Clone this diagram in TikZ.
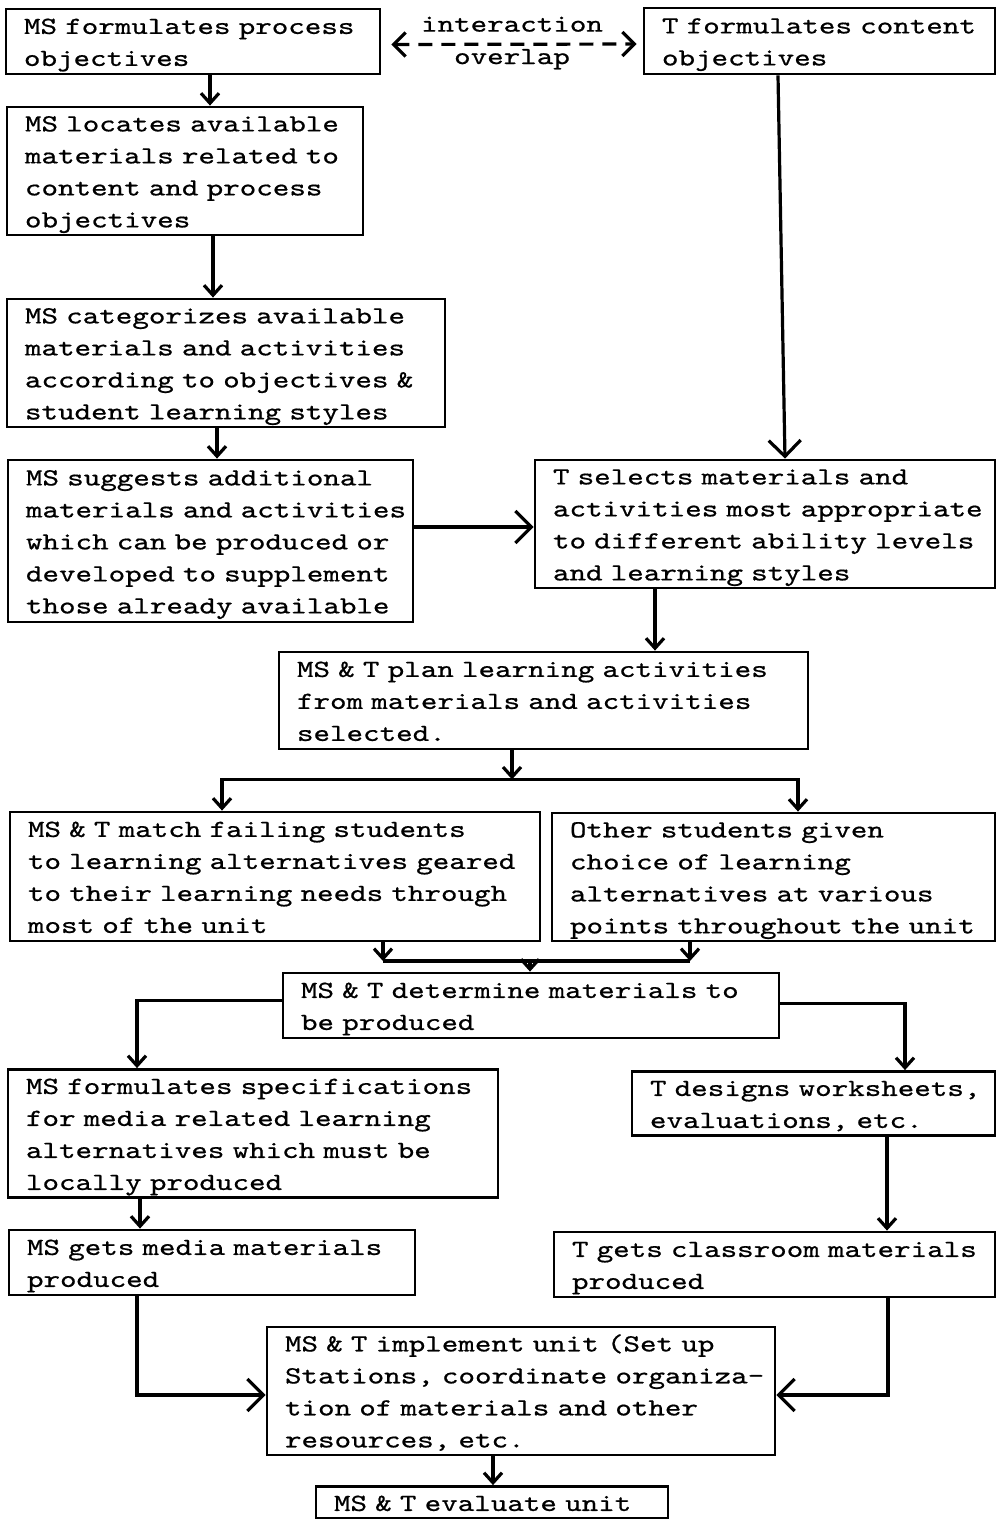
\documentclass[tikz,border=0pt]{standalone}
\usepackage{fontspec}
\setmonofont[FakeStretch=1.28,FakeBold=0.7]{lmmono10-regular.otf}
\usetikzlibrary{arrows.meta,calc}
\newcommand{\boxlines}[1]{\raisebox{-2pt}[\height][\depth]{\begin{tabular}{@{}l@{}}#1\end{tabular}}}
\tikzset{
  tw/.style={font=\ttfamily\fontsize{24.6}{32}\selectfont},
  box/.style={tw, draw, line width=2.8pt, inner xsep=18pt, inner ysep=0pt, align=left},
  arr/.style={line width=3.2pt, -{Straight Barb[length=10pt,width=18pt]}},
  bigarr/.style={line width=3.2pt, -{Straight Barb[length=16pt,width=32pt]}},
  plain/.style={line width=3.2pt},
  lbl/.style={tw, inner sep=0pt}
}
\begin{document}
\begin{tikzpicture}[x=1pt,y=-1pt]
\useasboundingbox (0,0) rectangle (997,1519);
% boxes
\node[box, text width=338pt, minimum height=65pt] (B1) at (193,41.5) {\boxlines{MS formulates process\\objectives}};
\node[box, text width=315pt, minimum height=66pt] (B2) at (819.5,41) {\boxlines{T formulates content\\objectives}};
\node[box, text width=320pt, minimum height=128pt] (B3) at (185,171) {\boxlines{MS locates available\\materials related to\\content and process\\objectives}};
\node[box, text width=402pt, minimum height=128pt] (B4) at (226,363) {\boxlines{MS categorizes available\\materials and activities\\according to objectives \&\\student learning styles}};
\node[box, text width=369pt, minimum height=162pt] (B5) at (210.5,541) {\boxlines{MS suggests additional\\materials and activities\\which can be produced or\\developed to supplement\\those already available}};
\node[box, text width=424pt, minimum height=128pt] (B6) at (765,524) {\boxlines{T selects materials and\\activities most appropriate\\to different ability levels\\and learning styles}};
\node[box, text width=493pt, minimum height=97pt] (B7) at (543.5,700.5) {\boxlines{MS \& T plan learning activities\\from materials and activities\\selected.}};
\node[box, text width=494pt, minimum height=129pt] (B8) at (275,876.5) {\boxlines{MS \& T match failing students\\to learning alternatives geared\\to their learning needs through\\most of the unit}};
\node[box, text width=407pt, minimum height=128pt] (B9) at (773.5,877) {\boxlines{Other students given\\choice of learning\\alternatives at various\\points throughout the unit}};
\node[box, text width=460pt, minimum height=65pt] (B10) at (531,1005.5) {\boxlines{MS \& T determine materials to\\be produced}};
\node[box, text width=454pt, minimum height=127pt] (B11) at (253,1133.5) {\boxlines{MS formulates specifications\\for media related learning\\alternatives which must be\\locally produced}};
\node[box, text width=327pt, minimum height=63pt] (B12) at (813.5,1103.5) {\boxlines{T designs worksheets,\\evaluations, etc.}};
\node[box, text width=370pt, minimum height=65pt] (B13) at (212,1262.5) {\boxlines{MS gets media materials\\produced}};
\node[box, text width=405pt, minimum height=65pt] (B14) at (774.5,1264.5) {\boxlines{T gets classroom materials\\produced}};
\node[box, text width=472pt, minimum height=128pt] (B15) at (521,1391) {\boxlines{MS \& T implement unit (Set up\\Stations, coordinate organiza-\\tion of materials and other\\resources, etc.}};
\node[box, text width=316pt, minimum height=31pt] (B16) at (492,1502.5) {\boxlines{MS \& T evaluate unit}};
% interaction overlap
\draw[line width=3.2pt, dash pattern=on 14pt off 9pt, {Straight Barb[length=12pt,width=24pt]}-{Straight Barb[length=12pt,width=24pt]}, shorten <=10pt, shorten >=6pt]
  ([yshift=-3]B1.east) -- ([yshift=-3]B2.west)
  node[lbl, midway, yshift=20pt] (L1) {interaction}
  node[lbl, midway, yshift=-15pt] (L2) {overlap};
% connectors
\draw[arr] ([xshift=17]B1.south) -- ([xshift=17]B1.south |- B3.north);
\draw[arr] ([xshift=28]B3.south) -- ([xshift=28]B3.south |- B4.north);
\draw[arr] ([xshift=-9]B4.south) -- ([xshift=-9]B4.south |- B5.north);
\draw[bigarr] ([xshift=-41.5]B2.south) -- ([xshift=20]B6.north);
\draw[bigarr] ([yshift=-3]B6.west -| B5.east) -- ([yshift=-3]B6.west);
\draw[arr] ([xshift=-110]B6.south) -- ([xshift=-110]B6.south |- B7.north);
\coordinate (sp) at ([xshift=-31.5,yshift=-29]B7.south);
\draw[arr] ([xshift=-31.5]B7.south) -- (sp);
\draw[arr] (sp) -| ([xshift=-53]B8.north);
\draw[arr] (sp) -| ([xshift=24.5]B9.north);
\coordinate (mg) at (530,961);
\draw[arr] ([xshift=108]B8.south) -- ([xshift=108]B8.south |- mg);
\draw[arr] ([xshift=-83.5]B9.south) -- ([xshift=-83.5]B9.south |- mg);
\draw[plain] ([xshift=108]B8.south |- mg) -- ([xshift=-83.5]B9.south |- mg);
\draw[arr] (mg) -- (mg |- B10.north);
\draw[arr] ([yshift=5]B10.west) -| ([xshift=-116]B11.north);
\draw[arr] ([yshift=2]B10.east) -| ([xshift=91.5]B12.north);
\draw[arr] ([xshift=-113]B11.south) -- ([xshift=-113]B11.south |- B13.north);
\draw[arr] ([xshift=73.5]B12.south) -- ([xshift=73.5]B12.south |- B14.north);
\draw[bigarr] ([xshift=-75]B13.south) |- ([yshift=-4]B15.west);
\draw[bigarr] ([xshift=113.5]B14.south) |- ([yshift=-4]B15.east);
\draw[arr] ([xshift=-28]B15.south) -- ([xshift=-28]B15.south |- B16.north);
\end{tikzpicture}
\end{document}
